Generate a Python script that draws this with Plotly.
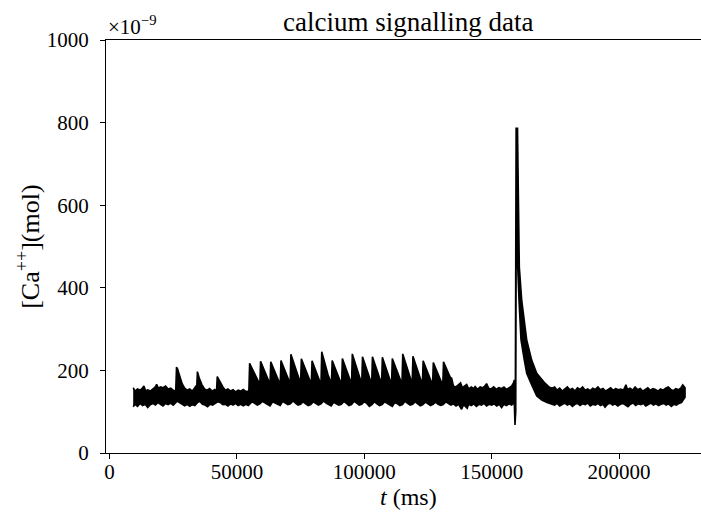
import plotly.graph_objects as go

# ---------------- data (values in units of 1e-9 mol, time in ms) ----------------
# upper envelope of the recorded trace
hi_pre_t = [9300, 10000, 11000, 12000, 13000, 13500, 14200, 15000, 16000, 17000, 18000, 18500,
            19200, 20000, 21000, 22000, 23000, 24000, 25000, 26000, 26300, 26700, 27500, 28500,
            29500, 30500, 31500, 32500, 33500, 34000, 34200, 34500, 35300, 36300, 37300, 38300,
            39300, 40300, 41300, 42000, 42300, 43500, 44500, 45500, 46500, 47500, 48500, 49500,
            50500, 51500, 52500, 53500, 54700]
hi_pre_v = [158, 150, 155, 152, 158, 162, 150, 153, 150, 156, 160, 166,
            157, 160, 158, 162, 155, 157, 152, 150, 208, 204, 185, 168,
            157, 152, 155, 150, 158, 163, 152, 197, 180, 165, 155, 152,
            156, 150, 154, 150, 185, 170, 160, 152, 155, 150, 153, 148,
            152, 150, 154, 149, 150]

hi_osc_t = [55000, 56300, 57600, 59000, 59300, 60600, 61900, 63000, 63300, 64600, 65900, 67000,
            67300, 68600, 69900, 70900, 71200, 72500, 73800, 75000, 75300, 76600, 77900, 79200,
            79500, 80800, 82000, 83000, 83300, 84500, 85800, 87100, 87400, 88700, 90000, 91100,
            91400, 92700, 94000, 95000, 95300, 96600, 97900, 99000, 99300, 100600, 101900, 102900,
            103200, 104500, 105700, 106800, 107100, 108400, 109700, 110700, 111000, 112300, 113600, 114800,
            115100, 116400, 117700, 118800, 119100, 120400, 121700, 122800, 123100, 124400, 125700, 126800,
            127100, 128400, 129700, 130800, 131100, 132400, 133700]
hi_osc_v = [217, 199, 181, 166, 222, 202, 182, 167, 221, 201, 182, 166,
            224, 203, 183, 168, 239, 213, 188, 169, 228, 206, 184, 167,
            223, 203, 182, 166, 245, 217, 189, 168, 224, 203, 182, 166,
            229, 207, 184, 167, 240, 214, 188, 168, 233, 209, 185, 167,
            233, 209, 185, 167, 232, 208, 185, 166, 229, 207, 184, 167,
            240, 214, 188, 168, 234, 210, 186, 166, 223, 203, 182, 165,
            219, 200, 181, 164, 221, 201, 184]

hi_post_t = [134300, 135000, 136000, 137000, 137800, 138500, 139500, 140200, 141000, 142000, 143000,
             143500, 144500, 145500, 146500, 147300, 148000, 148800, 149800, 150800, 151800, 152800,
             153800, 154800, 155800, 156800, 157800, 158600, 158900, 159200, 159300]
hi_post_v = [181, 162, 160, 165, 170, 158, 162, 166, 155, 160, 156,
             161, 154, 160, 158, 162, 168, 157, 155, 160, 154, 158,
             156, 160, 154, 159, 162, 170, 177, 160, 158]

hi_peak_t = [159600, 160140, 160530, 160850, 161790, 163750, 165710, 167680, 170930, 172500, 173700]
hi_peak_v = [786, 786, 600, 451, 370, 274, 225, 193, 169, 160, 157]

hi_tail_t = [174700, 175700, 176700, 177700, 178700, 179700, 180700, 181700, 182700, 183700, 184700,
             185700, 186700, 187700, 188700, 189700, 190700, 191700, 192700, 193700, 194700, 195700,
             196700, 197700, 198700, 199700, 200700, 201700, 202700, 203300, 204300, 205300, 206300,
             207300, 208300, 209300, 210300, 211300, 212300, 213300, 214300, 215300, 216300, 217300,
             218300, 219300, 220300, 221300, 222300, 223300, 224300, 225000, 225900]
hi_tail_v = [160, 152, 157, 150, 155, 160, 153, 156, 150, 158, 154,
             160, 152, 155, 151, 157, 154, 160, 153, 156, 150, 155,
             158, 152, 156, 153, 155, 152, 165, 154, 157, 152, 160,
             153, 156, 150, 155, 158, 152, 156, 154, 150, 155, 152,
             157, 160, 154, 151, 156, 153, 158, 165, 158]

# lower envelope of the recorded trace
lo_pre_t = [9300, 10000, 11000, 12000, 13000, 14000, 15000, 16000, 17000, 18000, 19000, 20000,
            21000, 22000, 23000, 24000, 25000, 26000, 26500, 27500, 28500, 29500, 30500, 31500,
            32500, 33500, 34500, 35500, 36500, 37500, 38500, 39500, 40500, 41500, 42500, 43500,
            44500, 45500, 46500, 47500, 48500, 49500, 50500, 51500, 52500, 53500, 54500]
lo_pre_v = [112, 118, 113, 120, 115, 118, 110, 117, 120, 116, 122, 118,
            114, 120, 117, 121, 116, 122, 126, 124, 118, 114, 118, 113,
            117, 115, 122, 125, 118, 116, 112, 118, 116, 120, 124, 122,
            117, 118, 114, 119, 116, 120, 115, 118, 114, 118, 115]

lo_osc_t = [55000, 56000, 57000, 58000, 59000, 60000, 61000, 62000, 63000, 64000, 65000, 66000,
            67000, 68000, 69000, 70000, 71000, 72000, 73000, 74000, 75000, 76000, 77000, 78000,
            79000, 80000, 81000, 82000, 83000, 84000, 85000, 86000, 87000, 88000, 89000, 90000,
            91000, 92000, 93000, 94000, 95000, 96000, 97000, 98000, 99000, 100000, 101000, 102000,
            103000, 104000, 105000, 106000, 107000, 108000, 109000, 110000, 111000, 112000, 113000,
            114000, 115000, 116000, 117000, 118000, 119000, 120000, 121000, 122000, 123000, 124000,
            125000, 126000, 127000, 128000, 129000, 130000, 131000, 132000, 133000]
lo_osc_v = [118, 124, 120, 116, 119, 125, 121, 117, 114, 124, 120, 118,
            115, 125, 121, 117, 119, 126, 121, 116, 118, 124, 119, 115,
            117, 124, 120, 116, 119, 126, 121, 117, 114, 123, 119, 116,
            118, 125, 120, 115, 117, 125, 121, 116, 118, 124, 120, 113,
            117, 124, 119, 115, 117, 124, 120, 116, 113, 122, 119,
            115, 117, 125, 120, 116, 118, 124, 119, 114, 117, 123,
            119, 115, 118, 123, 118, 115, 117, 124, 120]

lo_post_t = [134000, 135000, 136000, 137000, 138200, 139000, 140400, 141000, 142000, 143000, 144000,
             145000, 146000, 147000, 148000, 149000, 150000, 151000, 152000, 153000, 153900, 154800,
             155800, 156800, 157800, 158600, 158900, 159150, 159450]
lo_post_v = [116, 119, 114, 118, 106, 117, 108, 118, 115, 119, 113,
             118, 116, 120, 114, 118, 116, 119, 114, 118, 110, 118,
             115, 119, 116, 120, 118, 68, 100]

lo_peak_t = [159700, 160060, 160220, 160730, 161510, 162810, 163750, 165710, 167700, 169700, 171700, 173700]
lo_peak_v = [700, 600, 451, 370, 274, 225, 193, 165, 138, 128, 122, 118]

lo_tail_t = [174700, 175700, 176700, 177700, 178700, 179700, 180700, 181700, 182700, 183700, 184700,
             185700, 186700, 187700, 188700, 189700, 190700, 191700, 192700, 193700, 194500, 195500,
             196500, 197500, 198500, 199500, 200500, 201500, 202500, 203500, 204500, 205500, 206500,
             207500, 208500, 209500, 210500, 211500, 212500, 213500, 214500, 215500, 216500, 217500,
             218500, 219500, 220500, 221500, 222500, 223500, 224500, 225900]
lo_tail_v = [116, 120, 114, 118, 121, 116, 119, 113, 118, 120, 115,
             119, 117, 121, 114, 118, 116, 120, 115, 118, 111, 118,
             121, 116, 119, 114, 118, 120, 116, 112, 118, 121, 115,
             119, 117, 120, 114, 118, 121, 116, 119, 115, 118, 120,
             116, 119, 113, 118, 116, 120, 122, 135]

x_ticks = [0, 50000, 100000, 150000, 200000]
x_tick_labels = ["0", "50000", "100000", "150000", "200000"]
y_ticks = [0, 200, 400, 600, 800, 1000]
y_tick_labels = ["0", "200", "400", "600", "800", "1000"]

# ---------------- build figure ----------------
hi_t = hi_pre_t + hi_osc_t + hi_post_t + hi_peak_t + hi_tail_t
hi_v = hi_pre_v + hi_osc_v + hi_post_v + hi_peak_v + hi_tail_v
lo_t = lo_pre_t + lo_osc_t + lo_post_t + lo_peak_t + lo_tail_t
lo_v = lo_pre_v + lo_osc_v + lo_post_v + lo_peak_v + lo_tail_v

poly_t = hi_t + lo_t[::-1]
poly_v = hi_v + lo_v[::-1]

FONT = "Liberation Serif"

fig = go.Figure()
fig.add_trace(go.Scatter(
    x=poly_t, y=poly_v, mode="lines", fill="toself",
    fillcolor="black", line=dict(color="black", width=1.6),
    hoverinfo="skip", showlegend=False))

fig.update_layout(
    width=701, height=520,
    margin=dict(l=106, r=0, t=40, b=67, pad=0),
    paper_bgcolor="white", plot_bgcolor="white",
    font=dict(family=FONT, size=21, color="black"),
    showlegend=False,
)
fig.update_xaxes(
    range=[-1374, 232164], tickvals=x_ticks, ticktext=x_tick_labels,
    ticks="outside", ticklen=5, tickwidth=1, tickcolor="black",
    showline=True, linecolor="black", linewidth=1, mirror=True,
    showgrid=False, zeroline=False, automargin=False, ticklabelstandoff=-5,
    tickfont=dict(family=FONT, size=21, color="black"),
)
fig.update_yaxes(
    range=[0, 1000], tickvals=y_ticks, ticktext=y_tick_labels,
    ticks="outside", ticklen=5, tickwidth=1, tickcolor="black",
    showline=True, linecolor="black", linewidth=1, mirror=False,
    showgrid=False, zeroline=False, automargin=False, ticklabelstandoff=7,
    tickfont=dict(family=FONT, size=21, color="black"),
)

fig.add_annotation(text="calcium signalling data", xref="paper", yref="paper",
                   x=0.5076, y=1, xanchor="center", yanchor="bottom", yshift=1,
                   showarrow=False, font=dict(family=FONT, size=27, color="black"))
fig.add_annotation(text="×10<sup>−9</sup>", xref="paper", yref="paper",
                   x=0, y=1, xanchor="left", yanchor="bottom", xshift=0, yshift=-1,
                   showarrow=False, font=dict(family=FONT, size=21, color="black"))
fig.add_annotation(text="[Ca<sup>++</sup>](mol)", xref="paper", yref="paper",
                   x=-0.1305, y=0.5, xanchor="center", yanchor="middle", textangle=-90,
                   showarrow=False, font=dict(family=FONT, size=26, color="black"))
fig.add_annotation(text="<i>t</i> (ms)", xref="paper", yref="paper",
                   x=0.5076, y=0, xanchor="center", yanchor="middle", yshift=-44,
                   showarrow=False, font=dict(family=FONT, size=24, color="black"))

# remove the default 8px page margin so the figure fills the 701x520 window exactly
fig.write_html("out.html", config={"displayModeBar": False},
               post_script="document.body.style.margin='0';")
